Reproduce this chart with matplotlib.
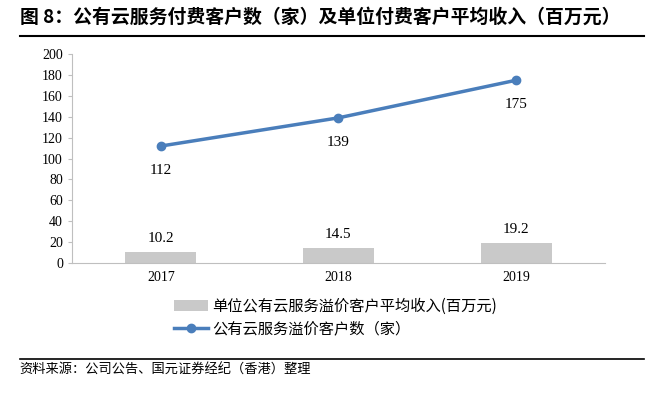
import matplotlib
matplotlib.use("Agg")
import matplotlib.pyplot as plt
import numpy as np

plt.rcParams['font.family'] = ['Liberation Serif', 'Noto Sans CJK SC', 'DejaVu Sans']

years = ["2017", "2018", "2019"]
revenue = [10.2, 14.5, 19.2]      # 单位公有云服务溢价客户平均收入(百万元)
customers = [112, 139, 175]       # 公有云服务溢价客户数（家）

title = "图 8：公有云服务付费客户数（家）及单位付费客户平均收入（百万元）"
source = "资料来源：公司公告、国元证券经纪（香港）整理"

bar_color = "#c9c9c9"
line_color = "#4a7ebb"
cjk = ['Noto Sans CJK SC', 'DejaVu Sans']

fig = plt.figure(figsize=(6.54, 3.95), dpi=100)
ax = fig.add_axes([0.110, 0.334, 0.815, 0.529])

x = np.arange(len(years))
bars = ax.bar(x, revenue, width=0.4, color=bar_color, label="单位公有云服务溢价客户平均收入(百万元)")
line, = ax.plot(x, customers, color=line_color, linewidth=2.5, marker="o", markersize=6,
                label="公有云服务溢价客户数（家）")

for xi, v in zip(x, revenue):
    ax.annotate(f"{v:.1f}", (xi, v), xytext=(0, 5), textcoords="offset points",
                ha="center", va="bottom", fontsize=11)
for xi, v in zip(x, customers):
    ax.annotate(f"{v}", (xi, v), xytext=(0, -13), textcoords="offset points",
                ha="center", va="top", fontsize=11)

ax.set_xlim(-0.5, 2.5)
ax.set_ylim(0, 200)
ax.set_yticks(range(0, 201, 20))
ax.set_xticks(x)
ax.set_xticklabels(years)
ax.tick_params(axis="both", labelsize=10, length=3, color="#bfbfbf")
ax.tick_params(axis="x", length=0, pad=6)
for s in ["top", "right"]:
    ax.spines[s].set_visible(False)
ax.spines["left"].set_color("#bfbfbf")
ax.spines["bottom"].set_color("#bfbfbf")

fig.legend([bars, line], [bars.get_label(), line.get_label()],
           loc="upper left", bbox_to_anchor=(0.245, 0.28), frameon=False,
           prop={'family': cjk, 'size': 11}, handlelength=2.2,
           labelspacing=0.35, handletextpad=0.3)

fig.text(0.03, 0.957, title, fontsize=13.6, fontweight="bold", family=cjk, va="center")
fig.add_artist(plt.Line2D([0.03, 0.985], [0.909, 0.909], color="black", linewidth=1.5))
fig.add_artist(plt.Line2D([0.03, 0.985], [0.091, 0.091], color="black", linewidth=1.2))
fig.text(0.03, 0.062, source, fontsize=9.5, family=cjk, style="italic", va="center")

fig.savefig("out.png", dpi=100)
